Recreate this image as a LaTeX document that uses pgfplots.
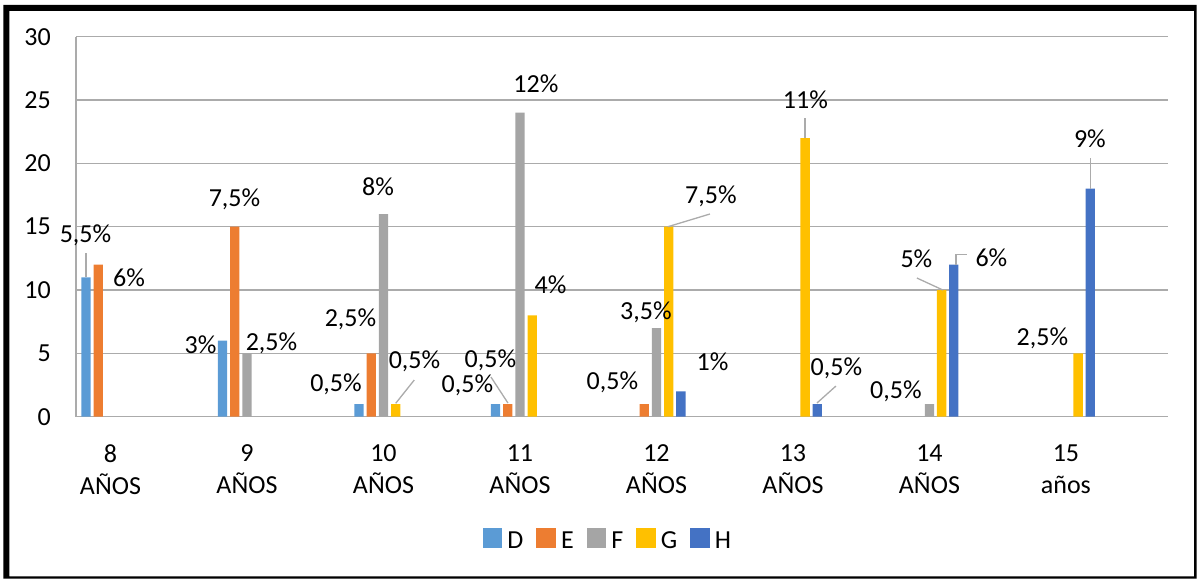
\documentclass[border=0pt]{standalone}
\usepackage{fontspec}
\setmainfont{Carlito}
\usepackage{pgfplots}
\pgfplotsset{compat=1.18}

\definecolor{cD}{HTML}{5B9BD5}
\definecolor{cE}{HTML}{ED7D31}
\definecolor{cF}{HTML}{A5A5A5}
\definecolor{cG}{HTML}{FFC000}
\definecolor{cH}{HTML}{4472C4}
\definecolor{gridc}{HTML}{ABABAB}

% data label: category, value, x offset, y offset (pt, from the top of the category at that value), text
\newcommand{\lbl}[5]{\node[anchor=base, inner sep=0pt] at ([xshift=#3pt,yshift=#4pt]axis cs:#1,#2) {#5};}
% leader line between two offsets from the same anchor point
\newcommand{\ldr}[6]{\draw[gridc, line width=1.3pt] ([xshift=#3pt,yshift=#4pt]axis cs:#1,#2) -- ([xshift=#5pt,yshift=#6pt]axis cs:#1,#2);}

\begin{document}
\begin{tikzpicture}[font=\fontsize{26}{32}\selectfont]
\useasboundingbox (-76pt,-162.3pt) rectangle (1121pt,416.7pt);
\begin{axis}[
  at={(0pt,0pt)}, anchor=south west,
  scale only axis, width=1092pt, height=380pt,
  xmin=-0.2527, xmax=7.7473, ymin=0, ymax=30,
  clip=false,
  ybar, bar width=9.3pt,
  ytick={0,5,...,30},
  xtick={0,...,7},
  xticklabels={{8\\AÑOS},{9\\AÑOS},{10\\AÑOS},{11\\AÑOS},{12\\AÑOS},{13\\AÑOS},{14\\AÑOS},{15\\años}},
  xticklabel style={align=center, inner sep=0pt, anchor=north, yshift=-28pt},
  yticklabel style={anchor=east, inner sep=0pt, xshift=-25pt},
  /pgf/number format/assume math mode=true,
  major tick length=0pt,
  separate axis lines,
  axis x line*=bottom, axis y line*=left,
  axis line style={-, draw=gridc, line width=1.3pt},
  ymajorgrids, major grid style={draw=gridc, line width=1.3pt},
  legend columns=5,
  legend style={at={(0.4863,-0.3220)}, anchor=center, draw=none, fill=none,
    inner sep=0pt, nodes={inner sep=0pt},
    /tikz/every odd column/.append style={column sep=5pt},
    /tikz/every even column/.append style={column sep=13pt}},
  legend image code/.code={\fill[#1] (0pt,-7pt) rectangle (19.6pt,12.6pt);},
]
\addplot[fill=cD, draw=none, bar shift=-24.4pt] coordinates {(0,11) (1,6) (2,1) (3,1)};
\addplot[fill=cE, draw=none, bar shift=-12.2pt] coordinates {(0,12) (1,15) (2,5) (3,1) (4,1)};
\addplot[fill=cF, draw=none, bar shift=0pt] coordinates {(1,5) (2,16) (3,24) (4,7) (6,1)};
\addplot[fill=cG, draw=none, bar shift=12.2pt] coordinates {(2,1) (3,8) (4,15) (5,22) (6,10) (7,5)};
\addplot[fill=cH, draw=none, bar shift=24.4pt] coordinates {(4,2) (5,1) (6,12) (7,18)};
\legend{D,E,F,G,H}

% leader lines
\ldr{0}{11}{-24.5}{0}{-24.5}{24.4}
\ldr{2}{1}{12.2}{0.7}{30.8}{24}
\ldr{3}{1}{-12}{1}{-29}{27}
\ldr{4}{15}{11.5}{0}{53.5}{12.7}
\ldr{5}{22}{12.2}{0}{12.2}{20}
\ldr{5}{1}{24}{1}{43}{18}
\ldr{6}{10}{13.5}{0}{-12.5}{12}
\draw[gridc, line width=1.3pt] ([xshift=26.5pt]axis cs:6,12) -- ([xshift=26.5pt,yshift=10pt]axis cs:6,12) -- ([xshift=37.5pt,yshift=10pt]axis cs:6,12);
\ldr{7}{18}{24.4}{0}{24.4}{30.7}

% data labels
\lbl{0}{11}{-25}{34.4}{5,5\%}
\lbl{0}{12}{18.5}{-21.3}{6\%}
\lbl{1}{6}{-46.5}{-12.3}{3\%}
\lbl{1}{15}{-12.5}{20.7}{7,5\%}
\lbl{1}{5}{24.5}{2.4}{2,5\%}
\lbl{2}{1}{-47.5}{13}{0,5\%}
\lbl{2}{5}{-33}{26.4}{2,5\%}
\lbl{2}{16}{-5.5}{19}{8\%}
\lbl{2}{1}{31}{36}{0,5\%}
\lbl{3}{1}{-52.5}{12}{0,5\%}
\lbl{3}{1}{-29.5}{37}{0,5\%}
\lbl{3}{24}{16}{20.7}{12\%}
\lbl{3}{8}{30.5}{21.4}{4\%}
\lbl{4}{1}{-44}{15}{0,5\%}
\lbl{4}{7}{-10.5}{9}{3,5\%}
\lbl{4}{15}{54.5}{23.7}{7,5\%}
\lbl{4}{2}{56}{20.4}{1\%}
\lbl{5}{22}{12.5}{30}{11\%}
\lbl{5}{1}{43.5}{29}{0,5\%}
\lbl{6}{1}{-33.5}{6}{0,5\%}
\lbl{6}{10}{-13}{23}{5\%}
\lbl{6}{12}{62}{-1.3}{6\%}
\lbl{7}{5}{-23.5}{7.4}{2,5\%}
\lbl{7}{18}{24}{41.7}{9\%}
\end{axis}
% outer frame, heavier on the top and left edges
\fill[black, even odd rule] (-72.7pt,-162pt) rectangle (1120.7pt,411.7pt)
  (-66.5pt,-159.6pt) rectangle (1118pt,405.7pt);
\end{tikzpicture}
\end{document}
